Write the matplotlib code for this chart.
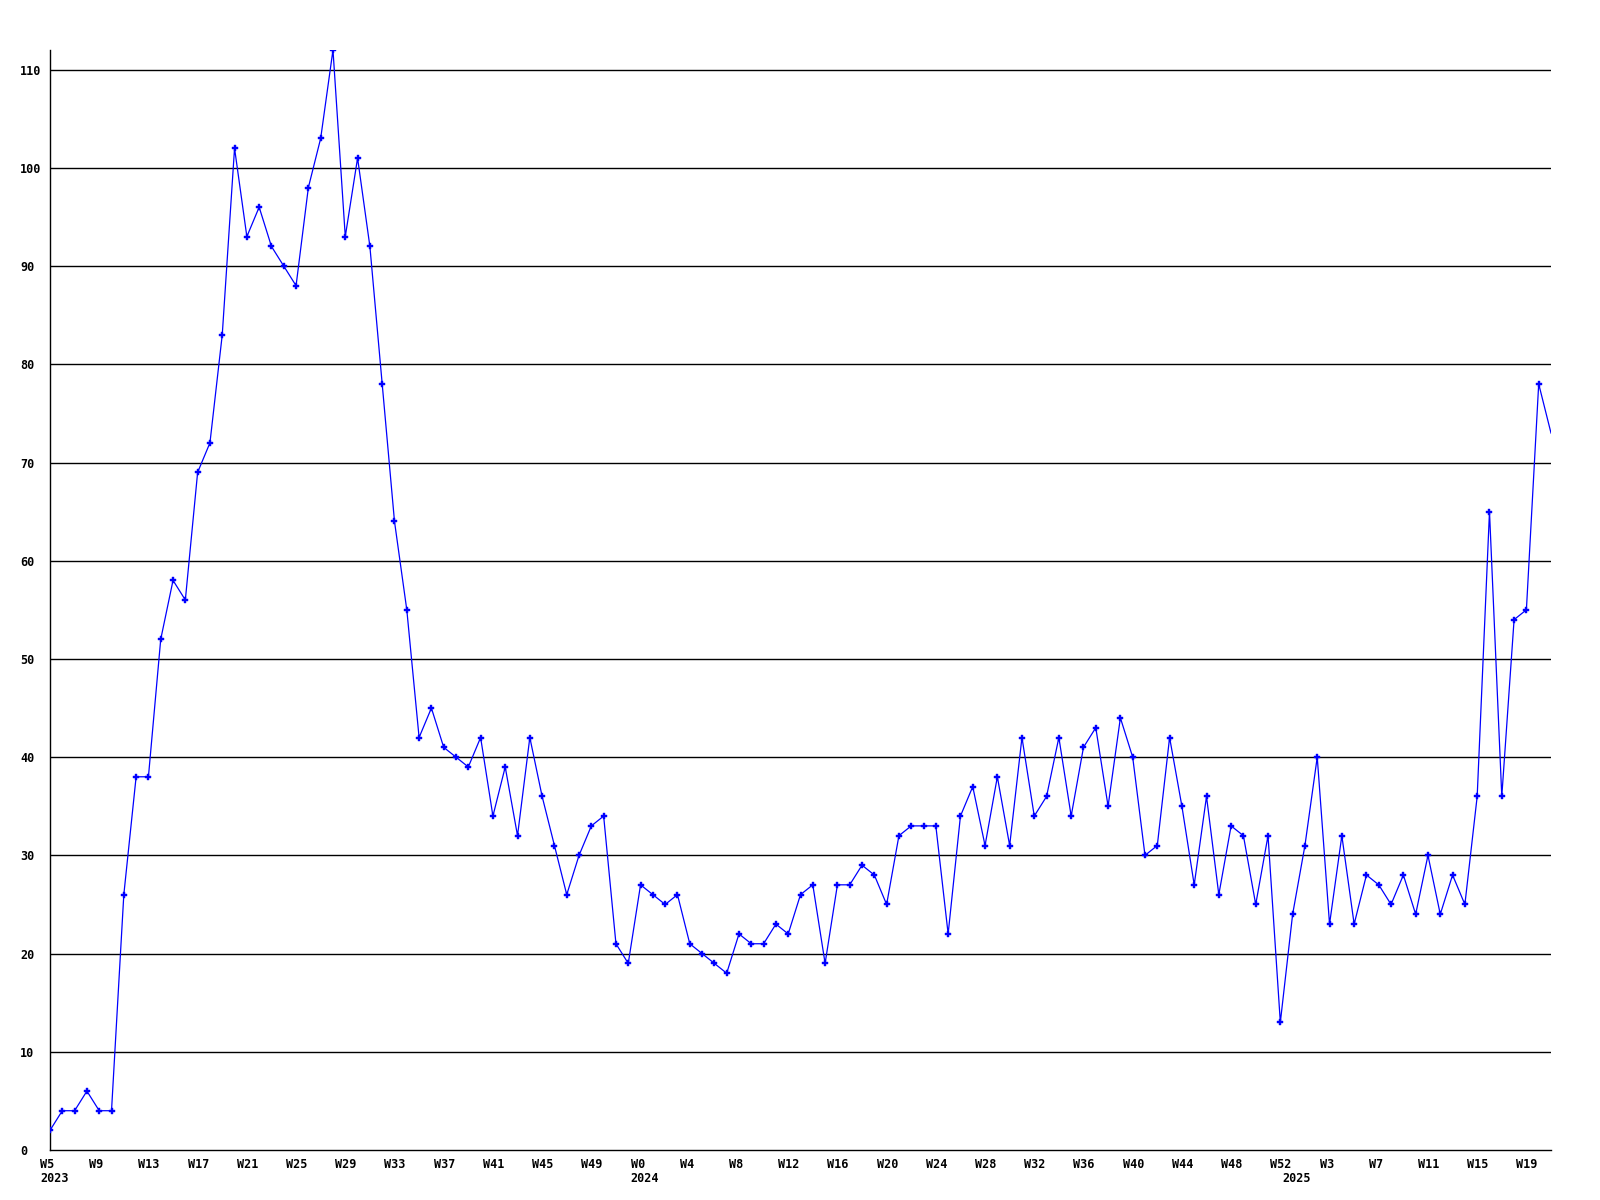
import numpy as np
import matplotlib.pyplot as plt
from matplotlib.transforms import ScaledTranslation, blended_transform_factory

# weekly counts, starting at W5 2023
counts = [2, 4, 4, 6, 4, 4, 26, 38, 38, 52, 58, 56, 69, 72, 83, 102, 93, 96, 92, 90,
          88, 98, 103, 112, 93, 101, 92, 78, 64, 55, 42, 45, 41, 40, 39, 42, 34, 39, 32, 42,
          36, 31, 26, 30, 33, 34, 21, 19, 27, 26, 25, 26, 21, 20, 19, 18, 22, 21, 21, 23,
          22, 26, 27, 19, 27, 27, 29, 28, 25, 32, 33, 33, 33, 22, 34, 37, 31, 38, 31, 42,
          34, 36, 42, 34, 41, 43, 35, 44, 40, 30, 31, 42, 35, 27, 36, 26, 33, 32, 25, 32,
          13, 24, 31, 40, 23, 32, 23, 28, 27, 25, 28, 24, 30, 24, 28, 25, 36, 65, 36, 54,
          55, 78, 73]

# tick labels every 4 weeks
tick_labels = ["W5", "W9", "W13", "W17", "W21", "W25", "W29", "W33", "W37", "W41",
               "W45", "W49", "W0", "W4", "W8", "W12", "W16", "W20", "W24", "W28",
               "W32", "W36", "W40", "W44", "W48", "W52", "W3", "W7", "W11", "W15",
               "W19"]
# first week of each year in the series
years = ["2023", "2024", "2025"]
year_start = [0, 48, 101]
y_ticks = [0, 10, 20, 30, 40, 50, 60, 70, 80, 90, 100, 110]

x = np.arange(len(counts))

fig = plt.figure(figsize=(16, 12), dpi=100)
ax = fig.add_axes([50/1600, 50/1200, 1501/1600, 1100/1200])

font = dict(family='DejaVu Sans Mono', weight='bold', size=8.5)

for v in y_ticks[1:]:
    ax.axhline(v, color='black', lw=1.0, zorder=1)

ax.plot(x, counts, color='#0000ff', lw=0.9, zorder=3,
        marker='P', markersize=3.8, markeredgewidth=0.3,
        markevery=list(range(len(counts) - 1)))

ax.set_xlim(0, len(counts) - 1)
ax.set_ylim(0, 112)

ax.spines['top'].set_visible(False)
ax.spines['right'].set_visible(False)
ax.spines['left'].set_linewidth(1.0)
ax.spines['bottom'].set_linewidth(1.0)

ax.set_xticks(np.arange(0, len(counts), 4))
ax.set_xticklabels(tick_labels, ha='left', **font)
ax.set_yticks(y_ticks)
ax.set_yticklabels([str(v) for v in y_ticks], ha='left', **font)
ax.tick_params(axis='x', length=0, pad=5.5)
ax.tick_params(axis='y', length=0, pad=21.6)

shift = ScaledTranslation(-10/100, 0, fig.dpi_scale_trans)
for lab in ax.get_xticklabels():
    lab.set_transform(lab.get_transform() + shift)

trans = blended_transform_factory(ax.transData, ax.transAxes) + \
    ScaledTranslation(-10/100, -22/100, fig.dpi_scale_trans)
for yr, pos in zip(years, year_start):
    ax.text(pos, 0, yr, transform=trans, ha='left', va='top', clip_on=False, **font)

fig.savefig('out.png', dpi=100)
